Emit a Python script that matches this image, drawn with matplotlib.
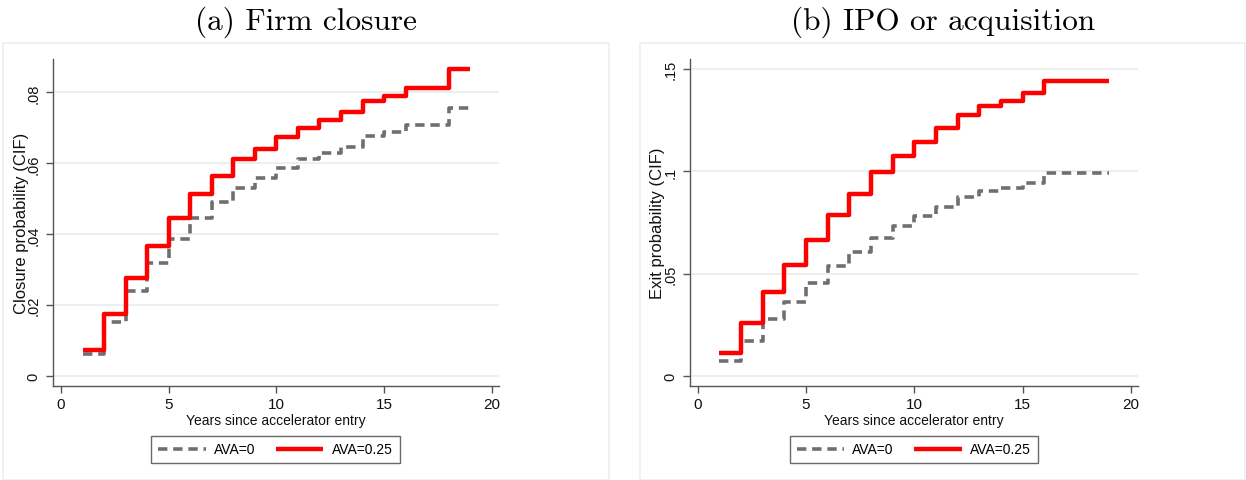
import matplotlib
matplotlib.use("Agg")
import matplotlib.pyplot as plt
from matplotlib.patches import Rectangle

# ---- data ----
years = list(range(1, 19))  # start of each yearly step; last step ends at year 19
end_year = 19

closure_ava0 = [0.0063, 0.0152, 0.0239, 0.0319, 0.0387, 0.0446, 0.0490, 0.0531, 0.0558,
                0.0587, 0.0611, 0.0629, 0.0647, 0.0678, 0.0687, 0.0709, 0.0709, 0.0755]
closure_ava025 = [0.0074, 0.0176, 0.0276, 0.0367, 0.0445, 0.0515, 0.0565, 0.0612, 0.0640,
                  0.0673, 0.0700, 0.0723, 0.0744, 0.0777, 0.0789, 0.0813, 0.0813, 0.0866]

exit_ava0 = [0.0076, 0.0172, 0.0278, 0.0364, 0.0454, 0.0537, 0.0608, 0.0677, 0.0732,
             0.0784, 0.0825, 0.0875, 0.0906, 0.0921, 0.0945, 0.0991, 0.0991, 0.0991]
exit_ava025 = [0.0116, 0.0262, 0.0412, 0.0545, 0.0667, 0.0787, 0.0892, 0.0996, 0.1077,
               0.1145, 0.1210, 0.1274, 0.1321, 0.1342, 0.1383, 0.1441, 0.1441, 0.1441]

titles = ["(a) Firm closure", "(b) IPO or acquisition"]
ylabels = ["Closure probability (CIF)", "Exit probability (CIF)"]
xlabel = "Years since accelerator entry"
legend_labels = ["AVA=0", "AVA=0.25"]
xticks = [0, 5, 10, 15, 20]
yticks_a = [0, 0.02, 0.04, 0.06, 0.08]
yticklabels_a = ["0", ".02", ".04", ".06", ".08"]
yticks_b = [0, 0.05, 0.10, 0.15]
yticklabels_b = ["0", ".05", ".1", ".15"]

# ---- style ----
W, H = 1246, 481
fig = plt.figure(figsize=(W / 100, H / 100), dpi=100)
sans = ["Liberation Sans", "DejaVu Sans"]

GRAY = "#6f6f6f"
RED = "#ff0000"
GRID = "#eaf0f2"
AXC = "#555555"
TXT = "#111111"

def px(x0, y0, x1, y1):
    return [x0 / W, 1 - y1 / H, (x1 - x0) / W, (y1 - y0) / H]

# panel frames
for (x0, x1) in [(3, 608.7), (640, 1245)]:
    fig.patches.append(Rectangle((x0 / W, 0), (x1 - x0) / W, 1 - 44 / H,
                                 transform=fig.transFigure, fill=False,
                                 edgecolor=GRID, linewidth=1.2))

panels = [
    dict(rect=px(53.3, 60, 499.3, 386.7), xlim=(-0.36, 20.35), ylim=(-0.00265, 0.0894),
         yt=yticks_a, ytl=yticklabels_a, s0=closure_ava0, s1=closure_ava025,
         title=titles[0], ylabel=ylabels[0], title_x=306, leg_x=275.5),
    dict(rect=px(690, 60, 1138.3, 386.7), xlim=(-0.355, 20.33), ylim=(-0.0046, 0.1549),
         yt=yticks_b, ytl=yticklabels_b, s0=exit_ava0, s1=exit_ava025,
         title=titles[1], ylabel=ylabels[1], title_x=943, leg_x=913.7),
]

for p in panels:
    ax = fig.add_axes(p["rect"])
    xs = years + [end_year]
    y0 = p["s0"] + [p["s0"][-1]]
    y1 = p["s1"] + [p["s1"][-1]]
    l0, = ax.step(xs, y0, where="post", color=GRAY, linewidth=2.6,
                  dashes=(2.6, 1.6), label=legend_labels[0])
    l1, = ax.step(xs, y1, where="post", color=RED, linewidth=3.2,
                  solid_capstyle="butt", label=legend_labels[1])
    ax.set_xlim(*p["xlim"])
    ax.set_ylim(*p["ylim"])
    ax.set_xticks(xticks)
    ax.set_xticklabels([str(t) for t in xticks], fontfamily=sans, fontsize=11)
    ax.set_yticks(p["yt"])
    ax.set_yticklabels(p["ytl"], fontfamily=sans, fontsize=10.5, rotation=90, va="center")
    ax.yaxis.grid(True, color=GRID, linewidth=1.4)
    ax.set_axisbelow(True)
    for s in ["top", "right"]:
        ax.spines[s].set_visible(False)
    for s in ["left", "bottom"]:
        ax.spines[s].set_color(AXC)
        ax.spines[s].set_linewidth(1.0)
    ax.tick_params(direction="out", length=5, width=1.0, color=AXC, labelcolor=TXT)
    ax.tick_params(axis="y", pad=4)
    ax.tick_params(axis="x", pad=3)
    ax.set_xlabel(xlabel, fontfamily=sans, fontsize=10, labelpad=1.5, color=TXT)
    ax.set_ylabel(p["ylabel"], fontfamily=sans, fontsize=12, color=TXT)
    ax.yaxis.set_label_coords(-24.5 / 446.0, 0.5)
    fig.text(p["title_x"] / W, 1 - 22 / H, p["title"], fontfamily=["cmr10", "DejaVu Serif"],
             fontsize=22.5, ha="center", va="center")
    leg = fig.legend(handles=[l0, l1], labels=legend_labels, loc="center",
                     bbox_to_anchor=(p["leg_x"] / W, 1 - 450.5 / H), ncol=2,
                     prop={"family": sans, "size": 10}, frameon=True, fancybox=False,
                     handlelength=3.4, columnspacing=1.5, handletextpad=0.6,
                     borderpad=0.5, edgecolor="#444444")
    leg.get_frame().set_linewidth(1.0)

fig.savefig("out.png", dpi=100)
